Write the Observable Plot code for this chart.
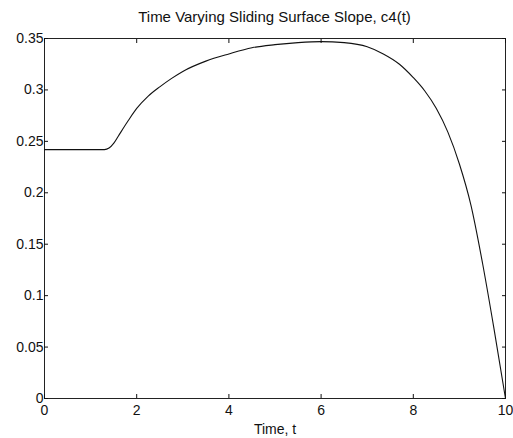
<!DOCTYPE html>
<html>
<head>
<meta charset="utf-8">
<script src="https://cdn.jsdelivr.net/npm/d3@7"></script>
<script src="https://cdn.jsdelivr.net/npm/@observablehq/plot@0.6"></script>
<style>
  html, body { margin: 0; padding: 0; background: #fff; }
  #wrap { width: 513px; height: 438px; font-family: "Liberation Sans", Arial, sans-serif; }
  #title { height: 28px; line-height: 20px; padding-top: 7px; box-sizing: border-box; text-align: center; font-size: 15px; color: #111; padding-left: 36px; white-space: nowrap; }
</style>
</head>
<body>
<div id="wrap">
  <div id="title"></div>
  <div id="chart"></div>
</div>
<script>
const titleText = "Time Varying Sliding Surface Slope, c4(t)";
const xLabel = "Time, t";
const tValues = [0, 1.3, 1.4, 1.5, 1.6, 1.8, 2.0, 2.25, 2.5, 2.75, 3, 3.5, 4, 4.5, 5, 5.5, 6, 6.5, 7, 7.35, 7.7, 8, 8.25, 8.5, 8.75, 9.0, 9.25, 9.5, 9.75, 10];
const cValues = [0.242, 0.242, 0.2435, 0.248, 0.255, 0.269, 0.282, 0.294, 0.303, 0.311, 0.318, 0.328, 0.335, 0.341, 0.344, 0.346, 0.347, 0.346, 0.342, 0.335, 0.325, 0.312, 0.299, 0.282, 0.259, 0.228, 0.188, 0.132, 0.068, 0.0];
const xTicks = [0, 2, 4, 6, 8, 10];
const yTicks = [0, 0.05, 0.1, 0.15, 0.2, 0.25, 0.3, 0.35];

const data = tValues.map((t, i) => ({t, c: cValues[i]}));
document.getElementById("title").textContent = titleText;

const chart = Plot.plot({
  width: 513,
  height: 410,
  marginLeft: 44,
  marginRight: 8,
  marginTop: 10,
  marginBottom: 40,
  style: {fontFamily: "Liberation Sans, Arial, sans-serif", fontSize: "14px", color: "#111", background: "#fff"},
  x: {domain: [0, 10]},
  y: {domain: [0, 0.35]},
  marks: [
    Plot.frame({stroke: "#222", strokeWidth: 1}),
    Plot.axisX({anchor: "bottom", ticks: xTicks, tickSize: -4, tickPadding: 11, label: xLabel, labelAnchor: "center", labelArrow: "none", labelOffset: 35, fontSize: 14}),
    Plot.axisX({anchor: "top", ticks: xTicks, tickSize: -4, tickFormat: () => "", label: null}),
    Plot.axisY({anchor: "left", ticks: yTicks, tickSize: -4, tickPadding: 5, label: null, tickFormat: d => String(d), fontSize: 14}),
    Plot.axisY({anchor: "right", ticks: yTicks, tickSize: -4, tickFormat: () => "", label: null}),
    Plot.line(data, {x: "t", y: "c", stroke: "#111", strokeWidth: 1.1, curve: "monotone-x"})
  ]
});
document.getElementById("chart").appendChild(chart);
</script>
</body>
</html>
